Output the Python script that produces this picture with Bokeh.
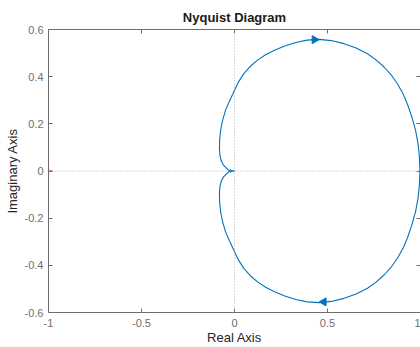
import math
from bokeh.plotting import figure
from bokeh.models import LinearAxis, FixedTicker, Range1d, Span, CustomJSTickFormatter
from bokeh.embed import file_html
from bokeh.resources import INLINE

# upper branch (negative frequencies): from G(0)=1 into the origin
upper_re = [0.997, 0.994, 0.987, 0.974, 0.955, 0.930, 0.906, 0.876, 0.842, 0.804,
            0.761, 0.715, 0.654, 0.589, 0.520, 0.455, 0.390, 0.330, 0.270, 0.212,
            0.165, 0.122, 0.084, 0.050, 0.021, -0.004, -0.028, -0.048, -0.063, -0.074,
            -0.080, -0.081, -0.078, -0.071, -0.060, -0.047, -0.034, -0.023, -0.012, 0.000]
upper_im = [0.000, 0.060, 0.115, 0.170, 0.225, 0.283, 0.328, 0.370, 0.408, 0.441,
            0.471, 0.497, 0.522, 0.540, 0.553, 0.558, 0.555, 0.545, 0.530, 0.511,
            0.492, 0.469, 0.443, 0.413, 0.377, 0.335, 0.295, 0.258, 0.218, 0.177,
            0.131, 0.095, 0.065, 0.042, 0.026, 0.015, 0.006, -0.005, 0.000, 0.000]
# lower branch (positive frequencies)
lower_re = [0.997, 0.994, 0.987, 0.974, 0.955, 0.930, 0.906, 0.876, 0.842, 0.804,
            0.761, 0.715, 0.654, 0.589, 0.520, 0.455, 0.390, 0.330, 0.270, 0.212,
            0.165, 0.122, 0.084, 0.050, 0.021, -0.004, -0.028, -0.048, -0.063, -0.074,
            -0.080, -0.081, -0.078, -0.071, -0.060, -0.047, -0.034, -0.023, -0.012, 0.000]
lower_im = [-0.000, -0.060, -0.115, -0.170, -0.225, -0.283, -0.328, -0.370, -0.408, -0.441,
            -0.471, -0.497, -0.522, -0.540, -0.553, -0.558, -0.555, -0.545, -0.530, -0.511,
            -0.492, -0.469, -0.443, -0.413, -0.377, -0.335, -0.295, -0.258, -0.218, -0.177,
            -0.131, -0.095, -0.065, -0.042, -0.026, -0.015, -0.006, 0.005, 0.000, 0.000]

arrow_re = [0.43, 0.48]
arrow_im = [0.557, -0.555]
arrow_angle_deg = [-90, 90]

x_ticks = [-1, -0.5, 0, 0.5, 1]
y_ticks = [-0.6, -0.4, -0.2, 0, 0.2, 0.4, 0.6]

FONT = "Liberation Sans"
BLUE = "#0072BD"
AXC = "#6e6e6e"

p = figure(width=420, height=347, output_backend="svg", toolbar_location=None,
           x_range=Range1d(-1, 1), y_range=Range1d(-0.6, 0.6),
           min_border_left=48, min_border_right=0, min_border_top=29, min_border_bottom=34,
           x_axis_label="Real Axis", y_axis_label="Imaginary Axis")
p.title.text = "Nyquist Diagram"
p.title.align = "center"
p.title.text_font = FONT
p.title.text_font_size = "13px"
p.title.text_font_style = "bold"
p.title.text_color = "#1a1a1a"
p.title.standoff = 10
p.grid.visible = False
p.outline_line_color = None

for ax in (p.xaxis[0], p.yaxis[0]):
    ax.axis_line_color = AXC
    ax.major_tick_line_color = AXC
    ax.major_tick_in = 4
    ax.major_tick_out = 0
    ax.minor_tick_line_color = None
    ax.major_label_text_font = FONT
    ax.major_label_text_font_size = "11px"
    ax.major_label_text_color = "#6e6e6e"
    ax.axis_label_text_font = FONT
    ax.axis_label_text_font_size = "13px"
    ax.axis_label_text_font_style = "normal"
    ax.axis_label_text_color = "#262626"
p.xaxis[0].ticker = FixedTicker(ticks=x_ticks)
p.yaxis[0].ticker = FixedTicker(ticks=y_ticks)
p.xaxis[0].major_label_standoff = 6
p.xaxis[0].axis_label_standoff = 0
p.yaxis[0].major_label_standoff = 5
p.yaxis[0].axis_label_standoff = 2
p.xaxis[0].major_label_overrides = {-1: "-1", -0.5: "-0.5", 0: "0", 0.5: "0.5", 1: "1"}
p.yaxis[0].major_label_overrides = {-0.6: "-0.6", -0.4: "-0.4", -0.2: "-0.2", 0: "0",
                                     0.2: "0.2", 0.4: "0.4", 0.6: "0.6"}

blank = CustomJSTickFormatter(code="return ''")
top = LinearAxis(ticker=FixedTicker(ticks=x_ticks), formatter=blank)
right = LinearAxis(ticker=FixedTicker(ticks=y_ticks), formatter=blank)
for ax in (top, right):
    ax.axis_line_color = AXC
    ax.major_tick_line_color = AXC
    ax.major_tick_in = 4
    ax.major_tick_out = 0
    ax.minor_tick_line_color = None
    ax.major_label_standoff = 0
p.add_layout(top, "above")
p.add_layout(right, "right")

p.add_layout(Span(location=0, dimension="height", line_color="#9a9a9a",
                  line_dash="1 2", line_width=0.8))
p.add_layout(Span(location=0, dimension="width", line_color="#9a9a9a",
                  line_dash="1 2", line_width=0.8))

p.line(upper_re, upper_im, line_color=BLUE, line_width=1.1)
p.line(lower_re, lower_im, line_color=BLUE, line_width=1.1)
p.scatter(arrow_re, arrow_im, marker="triangle", size=8,
          angle=[math.radians(a) for a in arrow_angle_deg],
          fill_color=BLUE, line_color=BLUE)
p.scatter([-1], [0], marker="cross", size=8, line_color="red", line_width=1.2)

open("out.html", "w").write(file_html(p, INLINE))
